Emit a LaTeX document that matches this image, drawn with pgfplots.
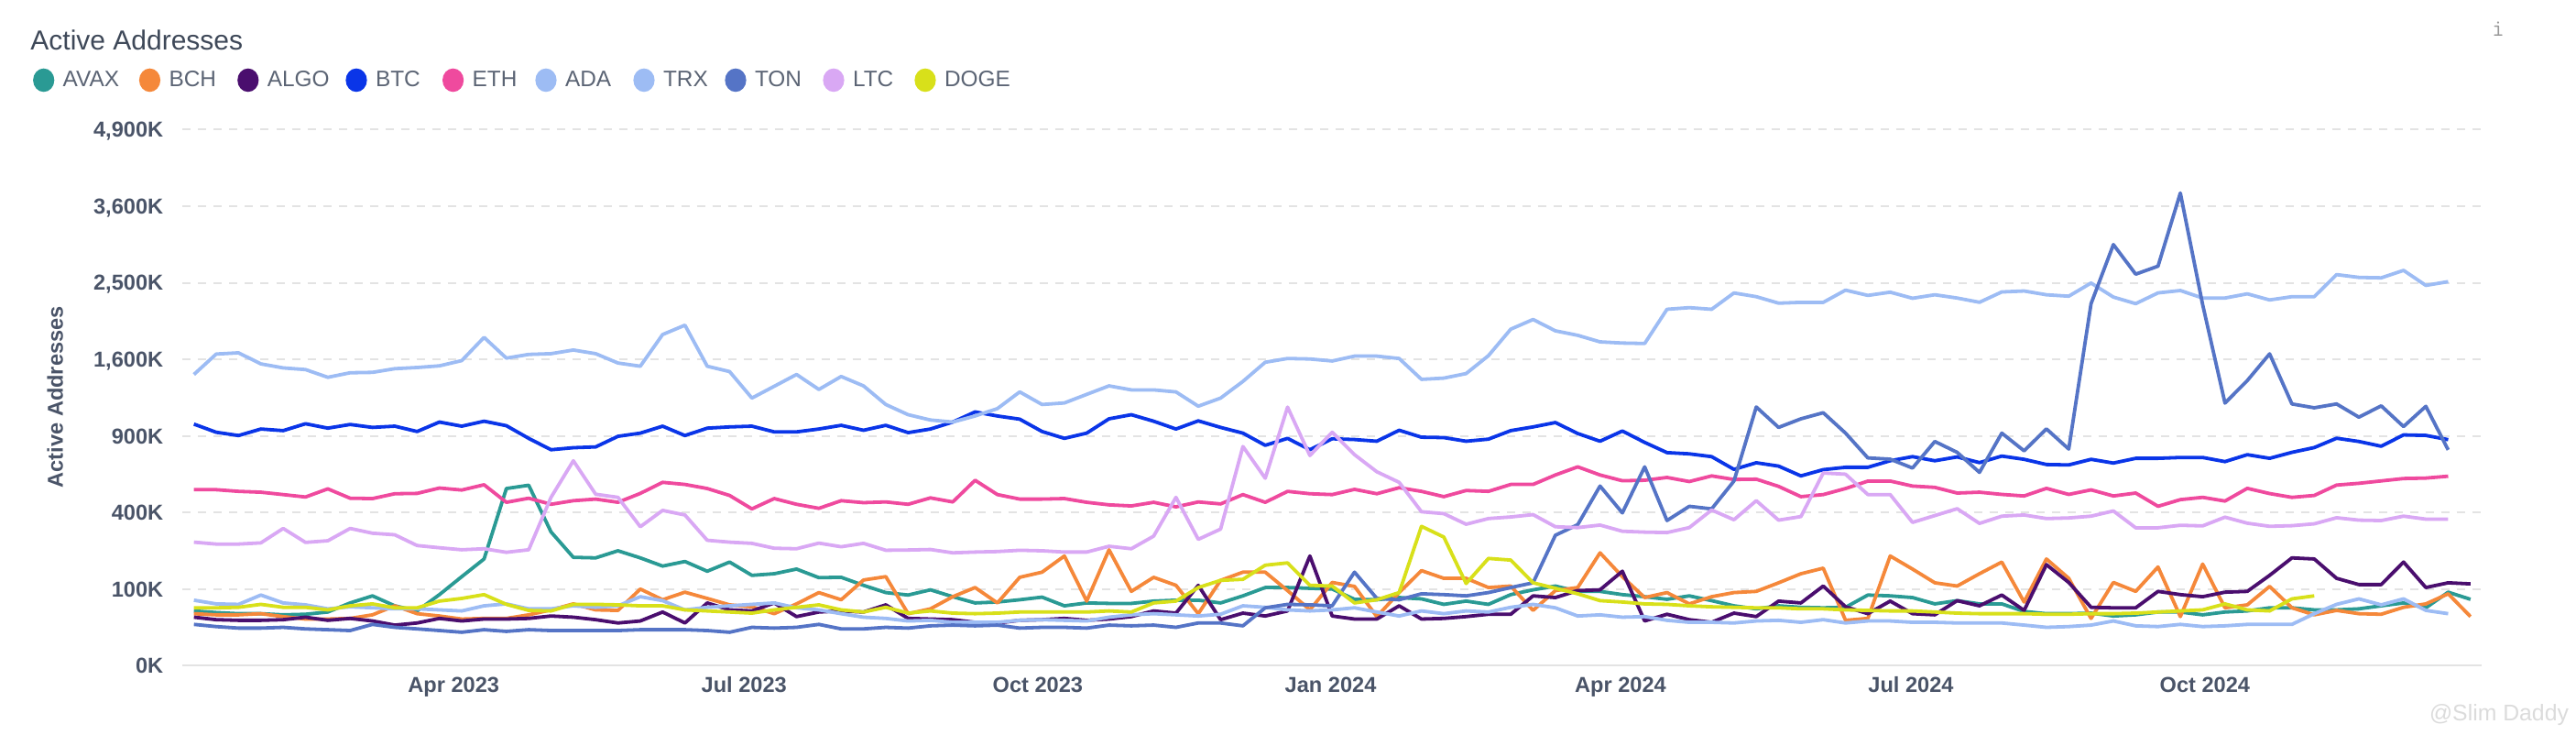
\documentclass[border=0pt]{standalone}
\usepackage{fontspec}
\setmainfont{Liberation Sans}
\usepackage{pgfplots}
\usepackage{pgfplotstable}
\pgfplotsset{compat=1.18}

\definecolor{cAVAX}{HTML}{2A9A94}
\definecolor{cBCH}{HTML}{F5883A}
\definecolor{cALGO}{HTML}{4A0E6E}
\definecolor{cBTC}{HTML}{0A35E8}
\definecolor{cETH}{HTML}{EF4A9E}
\definecolor{cADA}{HTML}{9DBCF4}
\definecolor{cTRX}{HTML}{9DBCF4}
\definecolor{cTON}{HTML}{5574C6}
\definecolor{cLTC}{HTML}{D9A8F4}
\definecolor{cDOGE}{HTML}{D8E01A}
\definecolor{txt}{HTML}{4A5468}
\definecolor{ttl}{HTML}{3E4858}
\definecolor{leg}{HTML}{5B6474}
\definecolor{gridc}{HTML}{E3E3E3}

% weekly values (thousands of active addresses), week 0 = 9 Jan 2023
\pgfplotstableread[row sep=\\]{v\\51\\48\\46\\46\\44\\45\\49\\67\\83\\61\\51\\86\\135\\194\\535\\555\\305\\200\\198\\225\\198\\169\\185\\152\\183\\139\\144\\159\\132\\133\\110\\91\\85\\98\\81\\67\\69\\74\\80\\61\\67\\66\\66\\71\\73\\73\\67\\83\\104\\104\\102\\100\\75\\74\\79\\76\\64\\71\\64\\86\\98\\108\\94\\94\\86\\81\\75\\83\\72\\61\\55\\61\\58\\57\\58\\85\\83\\79\\65\\72\\65\\65\\50\\46\\46\\47\\42\\44\\49\\49\\44\\49\\51\\57\\57\\53\\53\\55\\61\\67\\57\\92\\75\\}\tAVAX
\pgfplotstableread[row sep=\\]{v\\46\\44\\44\\46\\41\\37\\37\\38\\44\\61\\46\\42\\37\\38\\38\\44\\53\\65\\53\\52\\100\\74\\92\\77\\63\\59\\46\\65\\91\\74\\125\\135\\46\\55\\81\\104\\67\\133\\149\\205\\71\\229\\94\\133\\110\\46\\124\\149\\149\\96\\53\\118\\107\\41\\91\\154\\130\\130\\104\\108\\52\\96\\104\\217\\135\\79\\91\\65\\81\\91\\94\\117\\144\\162\\35\\38\\205\\159\\117\\108\\144\\183\\69\\194\\130\\38\\118\\94\\166\\41\\176\\57\\63\\107\\57\\44\\52\\46\\45\\58\\65\\88\\41\\}\tBCH
\pgfplotstableread[row sep=\\]{v\\40\\36\\35\\35\\36\\40\\35\\38\\34\\28\\31\\38\\34\\37\\37\\38\\42\\40\\36\\31\\34\\49\\31\\67\\53\\51\\67\\41\\49\\51\\49\\63\\38\\37\\36\\32\\31\\35\\36\\38\\35\\37\\41\\51\\47\\110\\36\\47\\42\\51\\205\\42\\37\\37\\61\\37\\38\\41\\45\\45\\83\\79\\96\\98\\152\\34\\45\\36\\32\\47\\41\\71\\67\\108\\59\\46\\71\\46\\44\\72\\61\\85\\52\\174\\118\\58\\57\\57\\94\\86\\81\\92\\94\\139\\198\\194\\130\\112\\112\\183\\104\\117\\114\\}\tALGO
\pgfplotstableread[row sep=\\]{v\\995\\929\\903\\955\\942\\998\\962\\992\\968\\978\\935\\1012\\978\\1019\\982\\881\\795\\810\\816\\897\\922\\978\\903\\962\\972\\978\\932\\932\\955\\985\\945\\985\\926\\955\\1012\\1098\\1063\\1036\\935\\881\\922\\1039\\1074\\1019\\955\\1022\\968\\922\\828\\881\\795\\878\\872\\859\\945\\890\\887\\859\\875\\942\\972\\1008\\919\\859\\939\\850\\774\\765\\745\\657\\702\\679\\614\\655\\671\\671\\716\\745\\716\\743\\703\\749\\726\\690\\687\\726\\700\\733\\733\\739\\739\\710\\759\\733\\776\\811\\882\\857\\821\\908\\904\\871\\}\tBTC
\pgfplotstableread[row sep=\\]{v\\528\\528\\518\\513\\499\\485\\533\\478\\476\\504\\506\\538\\526\\558\\455\\478\\444\\464\\473\\455\\506\\573\\560\\535\\494\\419\\476\\444\\422\\464\\453\\457\\444\\480\\457\\586\\499\\473\\473\\476\\455\\441\\435\\455\\430\\457\\446\\499\\455\\518\\504\\499\\530\\504\\540\\518\\487\\523\\518\\560\\560\\620\\674\\620\\583\\586\\604\\578\\614\\591\\593\\548\\487\\499\\535\\581\\581\\550\\542\\508\\513\\500\\491\\536\\500\\527\\491\\508\\433\\470\\483\\462\\536\\505\\483\\494\\556\\567\\582\\597\\600\\612\\}\tETH
\pgfplotstableread[row sep=\\]{v\\73\\65\\64\\85\\67\\63\\55\\59\\57\\55\\55\\53\\51\\61\\65\\55\\55\\61\\58\\61\\81\\72\\53\\58\\61\\64\\67\\57\\53\\46\\40\\38\\34\\35\\32\\32\\32\\35\\36\\35\\34\\40\\44\\46\\44\\42\\45\\61\\58\\53\\51\\53\\57\\49\\42\\51\\46\\51\\49\\58\\64\\57\\42\\44\\40\\41\\35\\32\\32\\31\\34\\35\\32\\36\\31\\34\\34\\32\\32\\31\\31\\31\\28\\25\\26\\28\\34\\27\\26\\29\\26\\27\\29\\29\\29\\46\\64\\76\\63\\76\\52\\46\\}\tADA
\pgfplotstableread[row sep=\\]{v\\1446\\1656\\1669\\1553\\1512\\1495\\1418\\1463\\1467\\1504\\1516\\1533\\1587\\1838\\1613\\1652\\1660\\1699\\1660\\1562\\1529\\1870\\1977\\1529\\1475\\1221\\1331\\1446\\1301\\1426\\1335\\1163\\1074\\1029\\1012\\1063\\1127\\1278\\1163\\1177\\1255\\1335\\1297\\1297\\1278\\1148\\1221\\1378\\1570\\1609\\1604\\1583\\1634\\1634\\1609\\1398\\1410\\1455\\1639\\1931\\2044\\1912\\1861\\1788\\1775\\1770\\2166\\2186\\2166\\2369\\2322\\2241\\2251\\2251\\2405\\2338\\2379\\2302\\2346\\2305\\2252\\2382\\2394\\2346\\2328\\2497\\2317\\2235\\2370\\2400\\2305\\2305\\2358\\2281\\2322\\2322\\2608\\2571\\2565\\2665\\2466\\2515\\}\tTRX
\pgfplotstableread[row sep=\\]{v\\29\\26\\24\\24\\25\\23\\22\\21\\29\\25\\23\\21\\19\\22\\20\\22\\21\\21\\21\\21\\22\\22\\22\\21\\19\\25\\24\\25\\29\\23\\23\\25\\24\\27\\28\\27\\28\\24\\25\\25\\24\\28\\27\\28\\25\\31\\31\\27\\57\\64\\63\\61\\149\\77\\74\\88\\86\\83\\91\\104\\117\\290\\339\\550\\398\\674\\359\\433\\419\\581\\1141\\968\\1039\\1091\\922\\736\\727\\666\\857\\776\\637\\922\\787\\956\\800\\2235\\3024\\2614\\2722\\3810\\2223\\1176\\1386\\1658\\1168\\1134\\1168\\1053\\1151\\975\\1147\\794\\}\tTON
\pgfplotstableread[row sep=\\]{v\\260\\252\\252\\257\\321\\259\\266\\321\\299\\292\\246\\237\\229\\233\\219\\229\\483\\716\\501\\483\\329\\411\\387\\268\\260\\255\\235\\233\\256\\241\\255\\227\\228\\230\\217\\220\\222\\227\\225\\220\\220\\243\\233\\286\\483\\272\\318\\819\\599\\1140\\753\\929\\759\\641\\573\\404\\394\\341\\369\\377\\389\\329\\325\\337\\308\\304\\302\\325\\413\\363\\464\\361\\379\\633\\625\\499\\499\\350\\384\\420\\345\\381\\387\\369\\372\\381\\408\\324\\324\\336\\333\\376\\346\\331\\334\\343\\373\\361\\359\\381\\366\\366\\}\tLTC
\pgfplotstableread[row sep=\\]{v\\57\\57\\58\\64\\58\\58\\53\\61\\65\\57\\57\\71\\77\\86\\64\\52\\51\\64\\64\\63\\61\\61\\53\\51\\49\\47\\53\\58\\63\\53\\49\\58\\47\\51\\47\\46\\47\\49\\49\\49\\49\\51\\49\\67\\71\\104\\124\\127\\172\\180\\110\\108\\67\\74\\91\\331\\282\\115\\196\\190\\117\\102\\88\\72\\69\\65\\64\\61\\59\\58\\57\\57\\55\\55\\53\\52\\51\\51\\49\\47\\46\\46\\46\\45\\45\\46\\46\\47\\49\\51\\53\\65\\53\\51\\76\\83\\}\tDOGE

\begin{document}
\begin{tikzpicture}
\path[use as bounding box] (0,0) rectangle (1406pt,401pt);
\begin{axis}[
  at={(99.75pt,37.85pt)}, anchor=south west,
  scale only axis, width=1254.75pt, height=292.4pt,
  xmin=-0.5, xmax=102.5,
  ymin=0, ymax=4900,
  y coord trafo/.code={\pgfmathparse{sqrt(#1)}},
  y coord inv trafo/.code={\pgfmathparse{(#1)^2}},
  axis line style={draw=none},
  major tick length=0pt,
  xtick={11.64,24.65,37.81,50.93,63.92,76.93,90.1},
  xticklabels={Apr 2023,Jul 2023,Oct 2023,Jan 2024,Apr 2024,Jul 2024,Oct 2024},
  ytick={100,400,900,1600,2500,3600,4900},
  yticklabels={100K,400K,900K,{1,600K},{2,500K},{3,600K},{4,900K}},
  extra y ticks={0},
  extra y tick labels={0K},
  extra y tick style={major grid style={solid, draw=gridc, line width=1pt}},
  ymajorgrids,
  major grid style={draw=gridc, line width=1pt, dash pattern=on 4.5pt off 4pt},
  tick label style={font=\fontsize{11.8pt}{14pt}\selectfont\bfseries, text=txt},
  xticklabel style={anchor=base, yshift=-14.55pt},
  yticklabel style={anchor=base east, inner sep=0pt, xshift=-10.45pt, yshift=-4.2pt},
  ylabel={Active Addresses},
  every axis y label/.style={at={(axis description cs:-0.05547,0.501)}, rotate=90, anchor=center,
    font=\fontsize{11.8pt}{14pt}\selectfont\bfseries, text=txt},
  title={Active Addresses},
  every axis title/.style={at={(axis description cs:-0.06635,1.14962)}, anchor=base west, inner sep=0pt,
    font=\fontsize{15pt}{18pt}\selectfont, text=ttl},
  legend columns=-1,
  legend cell align=left,
  legend image code/.code={\fill[#1,draw=none] (0pt,0pt) ellipse [x radius=5.8pt, y radius=6.4pt];},
  legend style={draw=none, fill=none, inner sep=0pt, outer sep=0pt,
    at={(axis description cs:-0.06511,1.09234)}, anchor=west,
    font=\fontsize{12.2pt}{14pt}\selectfont, text=leg,
    nodes={inner sep=0pt},
    /tikz/every odd column/.append style={column sep=4.7pt},
    /tikz/every even column/.append style={column sep=0pt}},
  every axis plot/.append style={line width=1.9pt, line join=round, mark=none},
]
\addplot[color=cAVAX] table[x expr=\coordindex, y=v] {\tAVAX};
\addlegendentry{\makebox[41.6pt][l]{AVAX}}
\addplot[color=cBCH] table[x expr=\coordindex, y=v] {\tBCH};
\addlegendentry{\makebox[37.35pt][l]{BCH}}
\addplot[color=cALGO] table[x expr=\coordindex, y=v] {\tALGO};
\addlegendentry{\makebox[42.8pt][l]{ALGO}}
\addplot[color=cBTC] table[x expr=\coordindex, y=v] {\tBTC};
\addlegendentry{\makebox[36.5pt][l]{BTC}}
\addplot[color=cETH] table[x expr=\coordindex, y=v] {\tETH};
\addlegendentry{\makebox[34.4pt][l]{ETH}}
\addplot[color=cADA] table[x expr=\coordindex, y=v] {\tADA};
\addlegendentry{\makebox[37.2pt][l]{ADA}}
\addplot[color=cTRX] table[x expr=\coordindex, y=v] {\tTRX};
\addlegendentry{\makebox[33.7pt][l]{TRX}}
\addplot[color=cTON] table[x expr=\coordindex, y=v] {\tTON};
\addlegendentry{\makebox[37.2pt][l]{TON}}
\addplot[color=cLTC] table[x expr=\coordindex, y=v] {\tLTC};
\addlegendentry{\makebox[33.7pt][l]{LTC}}
\addplot[color=cDOGE] table[x expr=\coordindex, y=v] {\tDOGE};
\addlegendentry{DOGE}
\end{axis}
\node[anchor=center, text=black!40, font=\fontsize{13pt}{15pt}\ttfamily] at (1363.5pt,385pt) {i};
\node[anchor=center, text=black!14, font=\fontsize{12.4pt}{14pt}\selectfont] at (1364pt,11pt) {@Slim Daddy};
\end{tikzpicture}
\end{document}
